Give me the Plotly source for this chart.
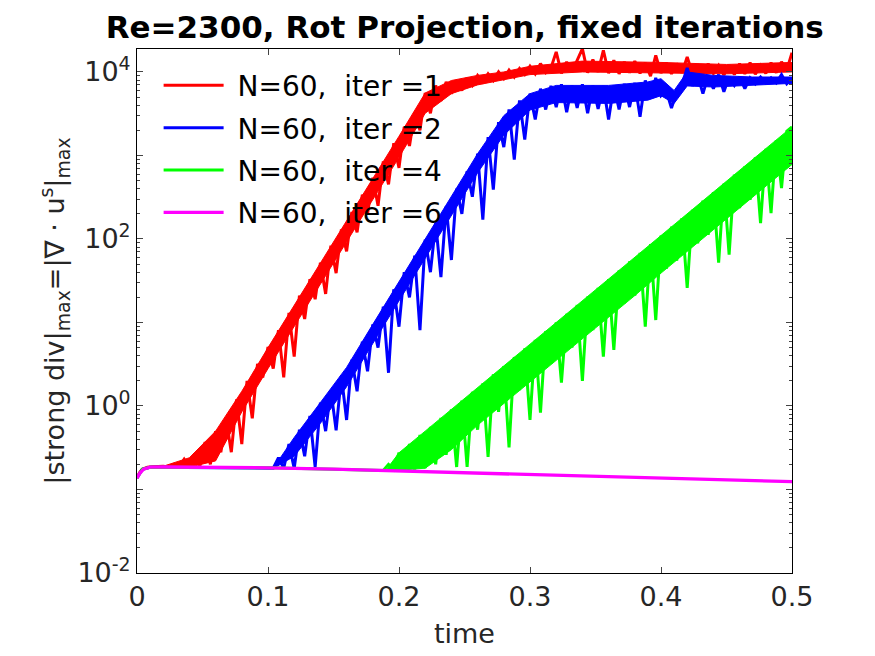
import plotly.graph_objects as go

# time samples and |strong div|_max (zigzag = oscillations, dips = spikes)
t_iter1 = [0.0, 0.002, 0.004, 0.008, 0.012, 0.016,
           0.020, 0.024, 0.028, 0.032, 0.036, 0.040, 0.044, 0.048, 0.052, 0.056,
           0.060, 0.064, 0.068, 0.072, 0.076, 0.080, 0.084, 0.088, 0.092, 0.096,
           0.100, 0.104, 0.108, 0.112, 0.116, 0.120, 0.124, 0.128, 0.132, 0.136,
           0.140, 0.144, 0.148, 0.152, 0.156, 0.160, 0.164, 0.168, 0.172, 0.176,
           0.180, 0.184, 0.188, 0.192, 0.196, 0.200, 0.204, 0.208, 0.212, 0.216,
           0.220, 0.224, 0.228, 0.232, 0.236, 0.240, 0.244, 0.248, 0.252, 0.256,
           0.260, 0.264, 0.268, 0.272, 0.276, 0.280, 0.284, 0.288, 0.292, 0.296,
           0.300, 0.304, 0.308, 0.312, 0.316, 0.320, 0.324, 0.328, 0.332, 0.336,
           0.340, 0.344, 0.348, 0.352, 0.356, 0.360, 0.364, 0.368, 0.372, 0.376,
           0.380, 0.384, 0.388, 0.392, 0.396, 0.400, 0.404, 0.408, 0.412, 0.416,
           0.420, 0.424, 0.428, 0.432, 0.436, 0.440, 0.444, 0.448, 0.452, 0.456,
           0.460, 0.464, 0.468, 0.472, 0.476, 0.480, 0.484, 0.488, 0.492, 0.496,
           0.500]
div_iter1 = [0.137, 0.16, 0.175, 0.185, 0.187, 0.188,
             0.19, 0.186, 0.20, 0.186, 0.23, 0.186, 0.27, 0.19, 0.37, 0.20,
             0.50, 0.28, 0.71, 0.28, 1.2, 0.35, 2.0, 0.71, 3.2, 2.2,
             5.1, 2.8, 8.1, 2.2, 13, 3.9, 21, 11, 33, 19,
             52, 22, 83, 39, 130, 71, 210, 120, 340, 200,
             540, 250, 850, 450, 1400, 710, 2200, 1300, 3300, 2000,
             5600, 3200, 6900, 4500, 7600, 5500, 7900, 6000, 8500, 6900,
             9100, 7600, 9500, 7900, 10000, 8300, 10500, 8700, 11000, 9300,
             11700, 9500, 12600, 9800, 11200, 17400, 9600, 13200, 10000, 13800,
             19000, 9800, 14100, 10000, 18200, 9700, 13800, 9500, 13200, 9800,
             13500, 9600, 12900, 8900, 15800, 9700, 12900, 9500, 12600, 9800,
             15100, 9500, 12300, 9300, 12600, 9600, 12000, 9200, 12000, 9300,
             12600, 9500, 12900, 9400, 12000, 9600, 12900, 9800, 13200, 10500,
             17000]
# solid part of the band (upper / lower edge)
t_band1 = [0.02, 0.04, 0.06, 0.08, 0.10, 0.12, 0.14, 0.16, 0.18, 0.20, 0.22, 0.24,
           0.26, 0.28, 0.30, 0.34, 0.40, 0.45, 0.50]
hi_band1 = [0.19, 0.24, 0.50, 1.5, 5.0, 16, 52, 165, 540, 1700, 5600, 7900,
            9100, 10000, 11700, 13500, 13000, 12300, 13000]
lo_band1 = [0.18, 0.185, 0.22, 0.85, 2.8, 9, 29, 93, 300, 950, 3200, 5500,
            7000, 8000, 9300, 10000, 9700, 9500, 10000]

t_iter2 = [0.0, 0.004, 0.010, 0.050, 0.100,
           0.104, 0.108, 0.112, 0.116, 0.120, 0.124, 0.128, 0.132, 0.136,
           0.140, 0.144, 0.148, 0.152, 0.156, 0.160, 0.164, 0.168, 0.172, 0.176,
           0.180, 0.184, 0.188, 0.192, 0.196, 0.200, 0.204, 0.208, 0.212, 0.216,
           0.220, 0.224, 0.228, 0.232, 0.236, 0.240, 0.244, 0.248, 0.252, 0.256,
           0.260, 0.264, 0.268, 0.272, 0.276, 0.280, 0.284, 0.288, 0.292, 0.296,
           0.300, 0.304, 0.308, 0.312, 0.316, 0.320, 0.324, 0.328, 0.332, 0.336,
           0.340, 0.344, 0.348, 0.352, 0.356, 0.360, 0.364, 0.368, 0.372, 0.376,
           0.380, 0.384, 0.388, 0.392, 0.396, 0.400, 0.404, 0.408, 0.412, 0.416,
           0.420, 0.424, 0.428, 0.432, 0.436, 0.440, 0.444, 0.448, 0.452, 0.456,
           0.460, 0.464, 0.468, 0.472, 0.476, 0.480, 0.484, 0.488, 0.492, 0.496,
           0.500]
div_iter2 = [0.137, 0.175, 0.185, 0.184, 0.182,
             0.18, 0.24, 0.18, 0.35, 0.18, 0.52, 0.25, 0.76, 0.186,
             1.1, 0.50, 1.55, 0.51, 2.3, 0.68, 3.6, 1.5, 5.9, 2.6,
             9.5, 5.0, 15.5, 2.5, 25, 8.9, 40, 20, 63, 8.1,
             98, 40, 155, 35, 245, 56, 400, 200, 650, 320,
             1050, 170, 1660, 390, 2500, 1260, 3550, 890, 4570, 1550,
             5500, 2700, 6300, 3550, 6800, 3800, 7100, 3300, 6900, 3700,
             7100, 3200, 6900, 3600, 6800, 2700, 6900, 3550, 7200, 3800,
             7400, 2900, 7900, 5000, 8500, 5200, 6000, 3700, 5800, 7100,
             11200, 6800, 9100, 5500, 8900, 6300, 9300, 5800, 8700, 6900,
             8700, 6300, 8500, 7200, 8700, 7400, 8500, 7400, 9300, 7200,
             8300]
t_band2 = [0.104, 0.12, 0.14, 0.16, 0.18, 0.20, 0.22, 0.24, 0.26, 0.28, 0.30, 0.32,
           0.36, 0.39, 0.40, 0.41, 0.42, 0.44, 0.47, 0.50]
hi_band2 = [0.18, 0.42, 1.1, 2.9, 9.5, 31, 98, 320, 1050, 3000, 5500, 6900,
            6900, 7600, 8300, 6000, 10000, 9100, 8700, 8700]
lo_band2 = [0.178, 0.25, 0.62, 1.7, 5.6, 18, 58, 190, 620, 1750, 3500, 4300,
            4200, 4600, 5200, 4200, 6800, 6600, 7000, 7300]

t_iter4 = [0.0, 0.004, 0.010, 0.050, 0.100, 0.150, 0.188,
           0.192, 0.196, 0.200, 0.204, 0.208, 0.212, 0.216, 0.220, 0.224, 0.228,
           0.232, 0.236, 0.240, 0.244, 0.248, 0.252, 0.256, 0.260, 0.264, 0.268,
           0.272, 0.276, 0.280, 0.284, 0.288, 0.292, 0.296, 0.300, 0.304, 0.308,
           0.312, 0.316, 0.320, 0.324, 0.328, 0.332, 0.336, 0.340, 0.344, 0.348,
           0.352, 0.356, 0.360, 0.364, 0.368, 0.372, 0.376, 0.380, 0.384, 0.388,
           0.392, 0.396, 0.400, 0.404, 0.408, 0.412, 0.416, 0.420, 0.424, 0.428,
           0.432, 0.436, 0.440, 0.444, 0.448, 0.452, 0.456, 0.460, 0.464, 0.468,
           0.472, 0.476, 0.480, 0.484, 0.488, 0.492, 0.496, 0.500]
div_iter4 = [0.137, 0.175, 0.185, 0.184, 0.182, 0.175, 0.169,
             0.20, 0.174, 0.275, 0.174, 0.35, 0.174, 0.45, 0.18, 0.56, 0.20,
             0.72, 0.26, 0.91, 0.186, 1.16, 0.186, 1.48, 0.52, 1.86, 0.245,
             2.4, 0.85, 3.0, 0.32, 3.85, 1.55, 4.9, 0.68, 6.2, 0.83,
             7.9, 3.2, 10, 1.9, 12.7, 5.0, 16.2, 2.0, 20.4, 8.1,
             26, 3.9, 33, 4.7, 42, 17, 54, 21, 68, 8.9,
             87, 10.7, 110, 44, 140, 55, 178, 26, 224, 89,
             288, 112, 363, 52, 460, 65, 590, 234, 740, 295,
             950, 155, 1200, 204, 1530, 407, 1950, 2200]
t_band4 = [0.19, 0.20, 0.22, 0.24, 0.26, 0.28, 0.30, 0.32, 0.34, 0.36, 0.38, 0.40,
           0.42, 0.44, 0.46, 0.48, 0.50]
hi_band4 = [0.17, 0.275, 0.50, 0.91, 1.66, 3.0, 5.5, 10, 18, 33, 60, 110,
            200, 365, 665, 1200, 2200]
lo_band4 = [0.168, 0.17, 0.18, 0.30, 0.59, 1.07, 1.95, 3.5, 6.4, 11.7, 21, 39,
            71, 130, 235, 430, 780]

t_iter6 = [0.0, 0.002, 0.005, 0.01, 0.02, 0.05, 0.1, 0.15, 0.2, 0.25, 0.3, 0.35, 0.4, 0.45, 0.5]
div_iter6 = [0.137, 0.155, 0.175, 0.185, 0.186, 0.185, 0.182, 0.175, 0.167, 0.160, 0.153, 0.146, 0.139, 0.131, 0.124]

labels = ["&nbsp;N=60,&nbsp; iter =1", "&nbsp;N=60,&nbsp; iter =2",
          "&nbsp;N=60,&nbsp; iter =4", "&nbsp;N=60,&nbsp; iter =6"]
colors = ["#ff0000", "#0000ff", "#00ff00", "#ff00ff"]

font = "DejaVu Sans, Liberation Sans, sans-serif"

curves = [(t_iter1, div_iter1, t_band1, hi_band1, lo_band1),
          (t_iter2, div_iter2, t_band2, hi_band2, lo_band2),
          (t_iter4, div_iter4, t_band4, hi_band4, lo_band4),
          (t_iter6, div_iter6, None, None, None)]

fig = go.Figure()
for i, (t, d, tb, hb, lb) in enumerate(curves):
    if tb is not None:
        # dense oscillation band: fill between the lower and upper edge
        fig.add_trace(go.Scatter(x=tb, y=lb, mode="lines", line=dict(color=colors[i], width=1),
                                 showlegend=False, hoverinfo="skip", legendgroup=str(i)))
        fig.add_trace(go.Scatter(x=tb, y=hb, mode="lines", line=dict(color=colors[i], width=1),
                                 fill="tonexty", fillcolor=colors[i],
                                 showlegend=False, hoverinfo="skip", legendgroup=str(i)))
    fig.add_trace(go.Scatter(x=t, y=d, mode="lines", name=labels[i], legendgroup=str(i),
                             line=dict(color=colors[i], width=3.3 if i == 3 else 3)))

ytick_vals = [1e-2, 1e-1, 1e0, 1e1, 1e2, 1e3, 1e4]
ytick_text = ["10<sup>-2</sup>", "", "10<sup>0</sup>", "", "10<sup>2</sup>", "", "10<sup>4</sup>"]
xtick_vals = [0, 0.1, 0.2, 0.3, 0.4, 0.5]
xtick_text = ["0", "0.1", "0.2", "0.3", "0.4", "0.5"]

fig.update_layout(
    width=875, height=656,
    margin=dict(l=129, r=91, t=41, b=91),
    paper_bgcolor="white", plot_bgcolor="white",
    font=dict(family=font, size=27, color="#262626"),
    title=dict(text="<b>Re=2300, Rot Projection, fixed iterations</b>", x=0.522, xanchor="center",
               y=0.971, yanchor="middle", font=dict(size=31, color="black")),
    showlegend=True,
    legend=dict(x=0.033, y=0.978, xanchor="left", yanchor="top", bgcolor="rgba(0,0,0,0)",
                font=dict(size=28, color="black"), itemwidth=60, tracegroupgap=3),
)
fig.update_xaxes(range=[0, 0.5], tickvals=xtick_vals, ticktext=xtick_text,
                 ticks="inside", ticklen=6, showline=True, linecolor="black", linewidth=1,
                 mirror="ticks", showgrid=False, zeroline=False,
                 title=dict(text="time", standoff=12, font=dict(size=27)), tickfont=dict(size=27))
fig.update_yaxes(type="log", range=[-2, 4.275], tickvals=ytick_vals, ticktext=ytick_text,
                 ticks="inside", ticklen=6, showline=True, linecolor="black", linewidth=1,
                 mirror="ticks", showgrid=False, zeroline=False,
                 minor=dict(ticks="inside", ticklen=3, dtick="D1", showgrid=False),
                 title=dict(text="|strong div|<sub>max</sub>=|∇ · u<sup>s</sup>|<sub>max</sub>",
                            standoff=4, font=dict(size=27)),
                 tickfont=dict(size=27))

fig.write_html("out.html")
